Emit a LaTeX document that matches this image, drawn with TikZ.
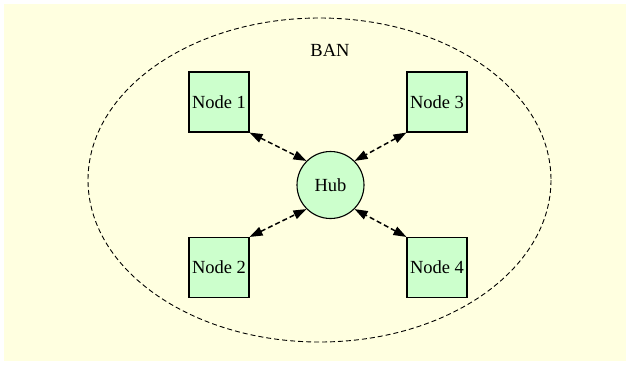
\documentclass[tikz,border=0pt]{standalone}
\usepackage{fontspec}
\setmainfont{Liberation Serif}
\usetikzlibrary{arrows.meta}
\definecolor{banbg}{HTML}{FFFFE0}
\definecolor{nodegreen}{HTML}{CCFFCC}
\begin{document}
\begin{tikzpicture}[x=1pt,y=-1pt]
    \tikzstyle{sensor}=[rectangle, draw, fill=nodegreen, line width=1.1pt, minimum size=60pt, inner sep=0pt, font=\fontsize{18.5}{20}\selectfont]
    \tikzstyle{hubnode}=[circle, draw, fill=nodegreen, line width=1.1pt, minimum size=67pt, inner sep=0pt, font=\fontsize{18.5}{20}\selectfont]
    \tikzstyle{link}=[dashed, dash pattern=on 5pt off 3pt, line width=1.5pt, {Triangle[length=13pt,width=9pt]}-{Triangle[length=13pt,width=9pt]}]
    \useasboundingbox (0,0) rectangle (630,365);
    \fill[banbg] (4,4) rectangle (626,361);
    % BAN cluster
    \draw[dashed, dash pattern=on 5pt off 3pt, line width=0.9pt] (319.5,180) ellipse [x radius=231.5, y radius=162];
    \node[font=\fontsize{18.5}{20}\selectfont] (ban) at (330,50) {BAN};
    % hub and the four nodes
    \node[hubnode] (hub) at (330.5,185) {Hub};
    \foreach \i/\x/\y in {1/219/102, 2/219/267.5, 3/437/102, 4/437/267.5} {\node[sensor] (n\i) at (\x,\y) {Node \i};}
    % links
    \foreach \i/\a/\b in {1/south east/135, 2/north east/225, 3/south west/45, 4/north west/315} {\draw[link] (n\i.\a) -- (hub.\b);}
  \end{tikzpicture}
\end{document}
